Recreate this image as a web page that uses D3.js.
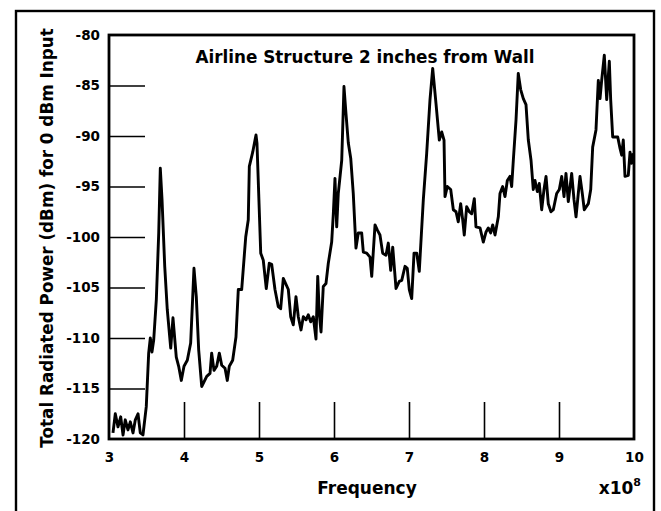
<!DOCTYPE html>
<html>
<head>
<meta charset="utf-8">
<script src="https://cdn.jsdelivr.net/npm/d3@7/dist/d3.min.js"></script>
<style>
  body { margin: 0; background: #fff; }
  text { font-family: "DejaVu Sans", sans-serif; font-weight: bold; fill: #000; }
</style>
</head>
<body>
<svg id="chart" width="661" height="511"></svg>
<script>
// ---- data ----
const titleText = "Airline Structure 2 inches from Wall";
const xLabel = "Frequency";
const yLabel = "Total Radiated Power (dBm) for 0 dBm Input";
const xTicks = [3, 4, 5, 6, 7, 8, 9, 10];
const yTicks = [-80, -85, -90, -95, -100, -105, -110, -115, -120];

// frequency in units of 1e8 Hz
const freq = [
  3.053, 3.084, 3.12, 3.156, 3.187, 3.217, 3.253, 3.284, 3.32, 3.351, 3.387, 3.417, 3.453, 3.497,
  3.529, 3.551, 3.573, 3.596, 3.631, 3.663, 3.684, 3.707, 3.743, 3.777, 3.823, 3.853, 3.897, 3.929,
  3.964, 4.0, 4.044, 4.089, 4.133, 4.164, 4.196, 4.236,
  4.303, 4.347, 4.369, 4.4, 4.436, 4.471, 4.503, 4.547, 4.577, 4.604, 4.649, 4.693, 4.724, 4.769,
  4.823, 4.857, 4.871, 4.916, 4.947, 4.96, 4.973, 5.023, 5.057, 5.097, 5.137, 5.169, 5.213, 5.257,
  5.289, 5.324, 5.391, 5.423, 5.457, 5.493, 5.524, 5.56, 5.591, 5.627, 5.657, 5.689, 5.724, 5.76,
  5.783, 5.804, 5.827, 5.857, 5.893, 5.924, 5.969, 5.991, 6.013, 6.036, 6.057, 6.103, 6.133, 6.16,
  6.191, 6.223, 6.257, 6.293, 6.324, 6.369, 6.391, 6.436, 6.48, 6.503, 6.547, 6.577, 6.613, 6.649,
  6.693, 6.724, 6.756, 6.783, 6.827, 6.871, 6.903, 6.947, 6.977, 7.004, 7.036, 7.067, 7.103, 7.137,
  7.191, 7.236, 7.28, 7.316, 7.36, 7.404, 7.436, 7.467, 7.48, 7.511, 7.556, 7.591, 7.627, 7.657,
  7.689, 7.716, 7.737, 7.769, 7.804, 7.836, 7.871, 7.893, 7.947, 7.991, 8.027, 8.057, 8.089, 8.116,
  8.147, 8.191, 8.213, 8.249, 8.28, 8.311, 8.347, 8.369, 8.391, 8.427, 8.457, 8.489, 8.524, 8.56,
  8.591, 8.627, 8.657, 8.68, 8.711, 8.737, 8.769, 8.8, 8.827, 8.857, 8.893, 8.924, 8.969, 9.004,
  9.036, 9.067, 9.093, 9.124, 9.169, 9.2, 9.227, 9.257, 9.28, 9.311, 9.337, 9.391, 9.423, 9.449,
  9.493, 9.524, 9.547, 9.569, 9.604, 9.636, 9.671, 9.689, 9.716, 9.783, 9.813, 9.836, 9.857, 9.88,
  9.924, 9.947, 9.969, 9.991
];
// total radiated power, dBm
const power = [
  -119.4, -117.5, -118.8, -117.8, -119.6, -118.1, -119.1, -118.3, -119.4, -118.1, -117.5, -119.4, -119.6, -116.8,
  -111.5, -110.0, -111.4, -110.2, -106.2, -99.6, -93.2, -96.3, -102.9, -107.2, -111.0, -108.0, -111.9, -112.8,
  -114.2, -112.8, -112.2, -110.5, -103.1, -105.9, -111.2, -114.8,
  -113.8, -113.5, -111.5, -113.2, -112.8, -111.5, -112.7, -113.0, -114.2, -112.8, -112.2, -109.9, -105.2, -105.2,
  -100.0, -98.3, -93.0, -91.6, -90.4, -89.9, -90.7, -101.6, -102.3, -105.1, -102.6, -102.7, -105.2, -106.9,
  -107.1, -104.1, -105.2, -107.9, -108.7, -105.9, -107.9, -109.2, -107.9, -108.2, -107.7, -108.4, -107.9, -110.1,
  -103.9, -107.6, -109.4, -104.9, -104.6, -102.6, -100.5, -97.7, -94.2, -99.0, -95.7, -92.4, -85.1, -87.8,
  -90.7, -92.2, -95.7, -101.1, -99.6, -99.6, -101.5, -101.6, -102.0, -103.9, -98.8, -99.3, -99.8, -101.6,
  -101.8, -100.6, -103.3, -101.0, -105.1, -104.4, -104.3, -102.9, -103.1, -105.2, -106.1, -101.6, -101.6, -103.4,
  -96.3, -91.7, -86.4, -83.3, -86.8, -90.4, -89.6, -90.4, -96.0, -95.0, -95.3, -97.3, -97.5, -98.5,
  -96.7, -98.3, -99.8, -97.0, -97.5, -97.7, -96.2, -99.0, -99.1, -100.5, -99.5, -99.1, -99.6, -98.8,
  -99.8, -98.0, -95.7, -95.0, -96.0, -94.4, -94.0, -95.0, -92.4, -88.4, -83.8, -85.4, -86.3, -86.9,
  -90.4, -92.4, -95.3, -94.4, -95.5, -94.7, -97.3, -95.3, -94.0, -96.7, -97.5, -97.3, -95.7, -95.3,
  -94.0, -96.0, -93.7, -96.5, -93.7, -96.3, -98.0, -95.7, -94.0, -95.7, -97.3, -96.7, -95.3, -91.1,
  -89.4, -84.5, -86.3, -84.5, -82.0, -86.4, -82.6, -86.4, -90.1, -90.1, -91.2, -91.9, -90.4, -94.0,
  -93.9, -91.6, -92.7, -91.7
];

// ---- drawing ----
const svg = d3.select("#chart");
const W = 661, H = 511;
svg.append("rect").attr("width", W).attr("height", H).attr("fill", "#fff");

// outer frame
svg.append("rect")
  .attr("x", 16).attr("y", 11).attr("width", 638).attr("height", 540)
  .attr("fill", "none").attr("stroke", "#000").attr("stroke-width", 2.4);

const x = d3.scaleLinear().domain([3, 10]).range([109, 634]);
const y = d3.scaleLinear().domain([-120, -80]).range([439, 35]);

// y axis (inner ticks)
const gy = svg.append("g").attr("transform", `translate(${x(3)},0)`)
  .call(d3.axisLeft(y).tickValues(yTicks).tickSize(-36).tickPadding(9).tickFormat(d => d));
gy.select(".domain").remove();
gy.selectAll(".tick line").attr("stroke", "#000").attr("stroke-width", 1.6)
  .filter(d => d === -80 || d === -120).remove();
gy.selectAll(".tick text").style("font-size", "13.5px").style("font-family", "'DejaVu Sans', sans-serif")
  .style("font-weight", "bold").attr("fill", "#000");

// x axis (inner ticks)
const gx = svg.append("g").attr("transform", `translate(0,${y(-120)})`)
  .call(d3.axisBottom(x).tickValues(xTicks).tickSize(-37).tickPadding(13).tickFormat(d => d));
gx.select(".domain").remove();
gx.selectAll(".tick line").attr("stroke", "#000").attr("stroke-width", 1.6)
  .filter(d => d === 3 || d === 10).remove();
gx.selectAll(".tick text").style("font-size", "13.5px").style("font-family", "'DejaVu Sans', sans-serif")
  .style("font-weight", "bold").attr("fill", "#000");

// plot box
svg.append("rect")
  .attr("x", x(3)).attr("y", y(-80))
  .attr("width", x(10) - x(3)).attr("height", y(-120) - y(-80))
  .attr("fill", "none").attr("stroke", "#000").attr("stroke-width", 2.8);

// data line
const pts = freq.map((f, i) => [f, power[i]]);
svg.append("path")
  .datum(pts)
  .attr("fill", "none").attr("stroke", "#000").attr("stroke-width", 2.9)
  .attr("stroke-linejoin", "round")
  .attr("d", d3.line().x(d => x(d[0])).y(d => y(d[1])));

// title
svg.append("text").attr("x", 365).attr("y", 63).attr("text-anchor", "middle")
  .style("font-size", "16.8px").text(titleText);

// x label
svg.append("text").attr("x", 367).attr("y", 494).attr("text-anchor", "middle")
  .style("font-size", "17px").text(xLabel);

// x10^8
const mult = svg.append("text").attr("x", 641).attr("y", 494).attr("text-anchor", "end")
  .style("font-size", "17px");
mult.append("tspan").text("x10");
mult.append("tspan").attr("dy", -8).style("font-size", "11px").text("8");

// y label
svg.append("text")
  .attr("transform", `translate(53,238) rotate(-90)`)
  .attr("text-anchor", "middle")
  .style("font-size", "16.8px").text(yLabel);
</script>
</body>
</html>
